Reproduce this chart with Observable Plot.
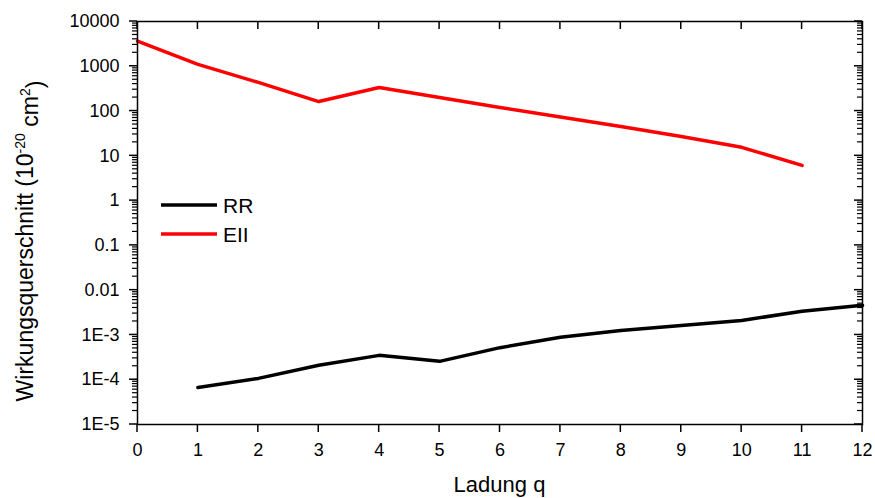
<!DOCTYPE html>
<html><head><meta charset="utf-8">
<script src="https://cdn.jsdelivr.net/npm/d3@7"></script>
<script src="https://cdn.jsdelivr.net/npm/@observablehq/plot@0.6"></script>
<style>body{margin:0;background:#fff;} svg{display:block}</style>
</head><body><div id="chart"></div>
<script>
// ---- data ----
const eiiCharge = [0, 1, 2, 3, 4, 5, 6, 7, 8, 9, 10, 11];
const eiiValues = [3630, 1100, 436, 163, 337, 200, 120, 74, 45, 27, 15.5, 6.1];
const rrCharge = [1, 2, 3, 4, 5, 6, 7, 8, 9, 10, 11, 12];
const rrValues = [6.7e-5, 1.07e-4, 2.1e-4, 3.5e-4, 2.57e-4, 5.2e-4, 8.9e-4, 1.26e-3, 1.62e-3, 2.1e-3, 3.4e-3, 4.6e-3];
const seriesNames = ["RR", "EII"];
const seriesColors = ["#000000", "#ff0000"];
const xTicks = [0, 1, 2, 3, 4, 5, 6, 7, 8, 9, 10, 11, 12];
const yTicks = [1e-5, 1e-4, 1e-3, 1e-2, 1e-1, 1, 10, 100, 1000, 10000];
const yTickLabels = ["1E-5", "1E-4", "1E-3", "0.01", "0.1", "1", "10", "100", "1000", "10000"];
const xTitle = "Ladung q";

// ---- build ----
const rows = [
  ...rrCharge.map((q, i) => ({series: "RR", q, v: rrValues[i]})),
  ...eiiCharge.map((q, i) => ({series: "EII", q, v: eiiValues[i]}))
];
const minorTicks = [];
for (let i = 0; i < yTicks.length - 1; i++) for (let m = 2; m <= 9; m++) minorTicks.push(yTicks[i] * m);

const W = 875, H = 498, mL = 137, mR = 13, mT = 21, mB = 74;

const chart = Plot.plot({
  width: W, height: H,
  marginLeft: mL, marginRight: mR, marginTop: mT, marginBottom: mB,
  style: {fontFamily: "Arial", fontSize: "18px", background: "white"},
  x: {domain: [0, 12]},
  y: {type: "log", domain: [1e-5, 1e4]},
  color: {domain: seriesNames, range: seriesColors},
  marks: [
    Plot.axisY(yTicks, {anchor: "left", tickSize: 0, tickPadding: 18, label: null,
      tickFormat: d => yTickLabels[yTicks.indexOf(d)]}),
    Plot.axisX(xTicks, {anchor: "bottom", tickSize: 0, tickPadding: 19, label: null}),
    Plot.line(rows, {x: "q", y: "v", z: "series", stroke: "series", strokeWidth: 3.5}),
    Plot.frame({stroke: "black", strokeWidth: 1.5})
  ]
});
document.getElementById("chart").appendChild(chart);

// ---- tick marks, placed through Plot's own scales ----
const svg = d3.select(chart);
const sx = chart.scale("x"), sy = chart.scale("y");
const x0 = sx.apply(0), x1 = sx.apply(12);
const yTop = sy.apply(1e4), yBot = sy.apply(1e-5);
const tg = svg.append("g").attr("stroke", "black").attr("fill", "none");
function tick(xa, ya, xb, yb, w) {
  tg.append("line").attr("x1", xa).attr("y1", ya).attr("x2", xb).attr("y2", yb).attr("stroke-width", w);
}
yTicks.forEach(v => { const y = sy.apply(v); tick(x0 - 8, y, x0, y, 1.5); tick(x1 - 8, y, x1, y, 1.5); });
minorTicks.forEach(v => { const y = sy.apply(v); tick(x0 - 5, y, x0, y, 1.2); tick(x1 - 5, y, x1, y, 1.2); });
xTicks.forEach(v => { const x = sx.apply(v); tick(x, yBot, x, yBot + 8, 1.5); tick(x, yTop, x, yTop + 8, 1.5); });

// ---- titles & legend ----
svg.append("text")
  .attr("x", (x0 + x1) / 2).attr("y", 492)
  .attr("text-anchor", "middle")
  .attr("font-family", "Arial").attr("font-size", 22).attr("fill", "black")
  .text(xTitle);

const yl = svg.append("text")
  .attr("transform", "translate(33,241) rotate(-90)")
  .attr("text-anchor", "middle")
  .attr("font-family", "Arial").attr("font-size", 23).attr("fill", "black");
yl.append("tspan").text("Wirkungsquerschnitt (10");
yl.append("tspan").attr("dy", "-0.55em").attr("font-size", 14).text("-20");
yl.append("tspan").attr("dy", "0.55em").text(" cm");
yl.append("tspan").attr("dy", "-0.55em").attr("font-size", 14).text("2");
yl.append("tspan").attr("dy", "0.55em").text(")");

const legendY = [205, 234];
seriesNames.forEach((name, i) => {
  svg.append("line").attr("x1", 161).attr("x2", 217).attr("y1", legendY[i]).attr("y2", legendY[i])
    .attr("stroke", seriesColors[i]).attr("stroke-width", 3.5);
  svg.append("text").attr("x", 223).attr("y", legendY[i] + 8)
    .attr("text-anchor", "start")
    .attr("font-family", "Arial").attr("font-size", 21).attr("fill", "black").text(name);
});
</script>
</body></html>
